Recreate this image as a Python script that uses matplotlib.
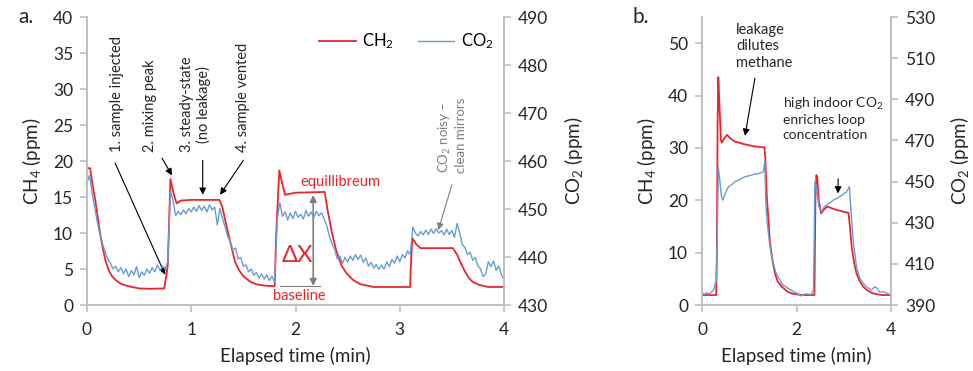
import numpy as np
import matplotlib
matplotlib.use("Agg")
import matplotlib.pyplot as plt

plt.rcParams['font.family'] = ['Lato', 'DejaVu Sans']
plt.rcParams['mathtext.fontset'] = 'custom'
plt.rcParams['mathtext.rm'] = 'Lato'
plt.rcParams['mathtext.it'] = 'Lato:italic'

RED = '#E8262B'
BLUE = '#6A9CD4'
SPINE = '#BFBFBF'
GREY = '#7F7F7F'
TXT = '#262626'

# ---- panel a data ----
# CH4 (left axis, ppm), read at knots
a_ch4_t = [0, 0.03, 0.05, 0.08, 0.1, 0.125, 0.15, 0.18, 0.21, 0.24, 0.28, 0.33, 0.4, 0.5, 0.6,
           0.74, 0.76, 0.775, 0.8, 0.83, 0.86, 0.9, 1.0, 1.27, 1.3, 1.33, 1.37, 1.42, 1.46, 1.5,
           1.56, 1.62, 1.7, 1.8, 1.815, 1.845, 1.87, 1.9, 2.0, 2.28, 2.31, 2.35, 2.39, 2.44, 2.49,
           2.55, 2.62, 2.75, 3.1, 3.105, 3.12, 3.16, 3.2, 3.51, 3.55, 3.58, 3.62, 3.66, 3.7, 3.76,
           3.85, 4.0]
a_ch4 = [19, 19, 17, 14.5, 12.5, 10, 8, 6, 4.8, 4, 3.4, 2.9, 2.6, 2.3, 2.25,
         2.3, 4, 5.5, 17.5, 15.5, 14.1, 14.5, 14.6, 14.6, 13.5, 11.5, 9, 6, 4.8, 4,
         3.3, 2.9, 2.7, 2.6, 10, 18.7, 17, 15.3, 15.6, 15.7, 13, 10, 7.6, 5.5, 4.4,
         3.5, 2.9, 2.5, 2.5, 5, 9.3, 8.4, 7.9, 7.9, 7, 6, 4.8, 3.8, 3.2, 2.8,
         2.5, 2.5]

# CO2 (right axis, ppm), read every 0.025 min
a_co2_t = np.arange(161) * 0.025
a_co2 = [455.5, 457, 453.2, 450.2, 447.2, 444.7, 442.7, 441, 439.5, 438.7,
         437.5, 438.1, 436.9, 437.8, 436.5, 437.5, 435.9, 437.2, 436.3, 438,
         435.7, 436.9, 436.2, 437.5, 436.6, 437.8, 436.9, 438.3, 437.2, 438.1,
         437.5, 439, 453.7, 451.8, 448.6, 449.5, 448.8, 449.8, 449, 450.1,
         449.4, 450.4, 449.5, 450.7, 449.7, 450.6, 449.4, 450.9, 449.8, 450.4,
         446.7, 450.1, 448, 446.2, 444.3, 443.2, 441.4, 441.9, 439.6, 439.9,
         438, 438.4, 436.9, 437.5, 436.2, 436.8, 435.6, 436.5, 435.4, 436.3,
         435.1, 436, 434.7, 448, 451.3, 448.5, 449.4, 447.7, 449.2, 448,
         449.5, 448.3, 448.9, 447.9, 449.7, 448.5, 449.4, 448.2, 449.5, 448.6,
         449.2, 447.9, 446.5, 444.4, 442.8, 441.7, 439.6, 440.2, 438.7, 439.9,
         439, 440.2, 439.3, 440.5, 439.5, 440.4, 438.9, 439.8, 438.1, 438.9,
         437.7, 438.4, 437.4, 438.3, 437.5, 439, 438, 439.5, 438.7, 440.2,
         439, 440.5, 439.8, 441.3, 440.5, 446.2, 445, 444.4, 445.3, 444.6,
         445.6, 444.7, 445.8, 444.9, 445.9, 445, 445.5, 444.6, 445.8, 444.7,
         445.5, 444.1, 447, 445, 442.6, 442, 440.5, 441, 439.3, 439.9,
         438.1, 437.5, 435.9, 436.5, 439, 438, 439.2, 437.2, 438.1, 436.3,
         435.3]

# ---- panel b data ----
b_ch4_t = [0, 0.3, 0.315, 0.33, 0.345, 0.37, 0.4, 0.42, 0.47, 0.53, 0.6, 0.7, 0.9, 1.1, 1.32,
           1.34, 1.37, 1.44, 1.5, 1.545, 1.6, 1.69, 1.8, 1.9, 2.1, 2.38, 2.4, 2.42, 2.44, 2.47,
           2.52, 2.58, 2.65, 2.8, 3.0, 3.1, 3.13, 3.17, 3.22, 3.27, 3.34, 3.41, 3.5, 3.62, 3.8, 4.0]
b_ch4 = [1.9, 1.9, 10, 35, 43.5, 38, 31.5, 31, 31.8, 32.5, 31.8, 31.2, 30.7, 30.3, 30.1,
         28, 21, 11.8, 8, 6, 4.5, 3.5, 2.6, 2.2, 1.9, 1.9, 20, 24.8, 24.5, 20,
         17.5, 18.2, 18.8, 18.3, 17.8, 17.6, 15, 11, 8, 6, 4.5, 3.5, 2.8, 2.2, 1.9, 1.9]

b_co2_t = [0, 0.05, 0.1, 0.15, 0.2, 0.25, 0.28, 0.3, 0.32, 0.345, 0.37, 0.41, 0.44, 0.5, 0.56,
           0.63, 0.7, 0.8, 0.91, 1.0, 1.12, 1.2, 1.3, 1.33, 1.35, 1.38, 1.44, 1.5, 1.56, 1.61,
           1.7, 1.83, 1.9, 2.0, 2.1, 2.2, 2.3, 2.36, 2.39, 2.42, 2.47, 2.53, 2.58, 2.64, 2.7,
           2.78, 2.85, 2.92, 3.0, 3.06, 3.12, 3.14, 3.2, 3.27, 3.34, 3.41, 3.5, 3.59, 3.65, 3.7,
           3.76, 3.84, 3.9, 4.0]
b_co2 = [396, 395.2, 396, 395.4, 396.3, 397.5, 400.5, 401, 420, 457, 452, 443, 441, 444.5, 447.5,
         448.5, 450, 451, 452.4, 452.8, 453.7, 453.9, 454.8, 460, 440, 430, 418, 411, 406, 403.8,
         400, 398, 397, 395.8, 394.4, 395.5, 395, 397, 450, 448, 438, 435.4, 437.5, 438.6, 439.5,
         441, 441.8, 442.7, 444, 445, 447.5, 440, 421.6, 408.6, 403, 400.5, 398.5, 397.3, 398.8, 398.3,
         396.2, 396.5, 395.8, 394.9]

fig = plt.figure(figsize=(9.73, 3.71), dpi=100)
ax_a = fig.add_axes([87 / 973, 66 / 371, 417 / 973, 288 / 371])
ax_b = fig.add_axes([702 / 973, 66 / 371, 189 / 973, 288 / 371])


def style_axes(ax, ax2):
    for a in (ax, ax2):
        a.spines['top'].set_visible(False)
        for s in ('left', 'right', 'bottom'):
            a.spines[s].set_color(SPINE)
            a.spines[s].set_linewidth(1.2)
        a.tick_params(axis='both', direction='out', length=5, width=1.2, color=SPINE,
                      labelsize=12.5, labelcolor=TXT, pad=5)
    ax.tick_params(axis='x', pad=7)


# ---- panel a ----
ax2_a = ax_a.twinx()
l1, = ax_a.plot(a_ch4_t, a_ch4, color=RED, lw=1.3, label='CH$_2$')
l2, = ax2_a.plot(a_co2_t, a_co2, color=BLUE, lw=1.0, label='CO$_2$')
ax_a.set_xlim(0, 4)
ax_a.set_ylim(0, 40)
ax2_a.set_ylim(430, 490)
ax_a.set_xticks([0, 1, 2, 3, 4])
ax_a.set_yticks(range(0, 41, 5))
ax2_a.set_yticks(range(430, 491, 10))
style_axes(ax_a, ax2_a)
ax_a.set_xlabel('Elapsed time (min)', fontsize=13.5, color=TXT, labelpad=7)
ax_a.set_ylabel('CH$_4$ (ppm)', fontsize=13.5, color=TXT, labelpad=7)
ax2_a.set_ylabel('CO$_2$ (ppm)', fontsize=13.5, color=TXT, labelpad=10)
ax_a.legend(handles=[l1, l2], loc='center left', bbox_to_anchor=(0.52, 0.915), ncol=2,
            frameon=False, fontsize=12, handlelength=2.2, columnspacing=1.4, handletextpad=0.4)

arrow = dict(arrowstyle='-|>', color='black', lw=0.8, mutation_scale=10, shrinkA=0, shrinkB=0)
ax_a.text(0.29, 21.2, '1. sample injected', rotation=90, ha='center', va='bottom',
          fontsize=10.5, color=TXT)
ax_a.annotate('', xy=(0.75, 4.2), xytext=(0.27, 19.7), arrowprops=arrow)
ax_a.text(0.605, 21.2, '2. mixing peak', rotation=90, ha='center', va='bottom', fontsize=10.5, color=TXT)
ax_a.annotate('', xy=(0.815, 18.0), xytext=(0.72, 20.4), arrowprops=arrow)
ax_a.text(1.04, 21.2, '3. steady-state\n(no leakage)', rotation=90, ha='center', va='bottom',
          fontsize=10.5, color=TXT, multialignment='center')
ax_a.annotate('', xy=(1.11, 15.3), xytext=(1.11, 20.1), arrowprops=arrow)
ax_a.text(1.5, 21.2, '4. sample vented', rotation=90, ha='center', va='bottom', fontsize=10.5, color=TXT)
ax_a.annotate('', xy=(1.276, 15.3), xytext=(1.5, 20.1), arrowprops=arrow)

ax_a.text(2.43, 17.1, 'equillibreum', ha='center', va='center', fontsize=10.5, color=RED)
ax_a.annotate('', xy=(2.17, 15.3), xytext=(2.17, 2.64),
              arrowprops=dict(arrowstyle='<|-|>', color=GREY, lw=1.2, mutation_scale=10,
                              shrinkA=0, shrinkB=0))
ax_a.plot([1.85, 2.235], [2.64, 2.64], color=GREY, lw=0.8)
ax_a.text(2.02, 6.9, 'ΔX', ha='center', va='center', fontsize=17, color=RED)
ax_a.text(2.04, 1.25, 'baseline', ha='center', va='center', fontsize=10.5, color=RED)
ax_a.text(3.5, 18.3, 'CO$_2$ noisy –\nclean mirrors', rotation=90, ha='center', va='bottom',
          fontsize=9.5, color=GREY, multialignment='left')
ax_a.annotate('', xy=(3.37, 10.4), xytext=(3.5, 16.7),
              arrowprops=dict(arrowstyle='-|>', color=GREY, lw=0.8, mutation_scale=10,
                              shrinkA=0, shrinkB=0))

# ---- panel b ----
ax2_b = ax_b.twinx()
ax_b.plot(b_ch4_t, b_ch4, color=RED, lw=1.3)
ax2_b.plot(b_co2_t, b_co2, color=BLUE, lw=1.0)
ax_b.set_xlim(0, 4)
ax_b.set_ylim(0, 55)
ax2_b.set_ylim(390, 530)
ax_b.set_xticks([0, 2, 4])
ax_b.set_yticks(range(0, 51, 10))
ax2_b.set_yticks(range(390, 531, 20))
style_axes(ax_b, ax2_b)
ax_b.set_xlabel('Elapsed time (min)', fontsize=13.5, color=TXT, labelpad=7)
ax_b.set_ylabel('CH$_4$ (ppm)', fontsize=13.5, color=TXT, labelpad=7)
ax2_b.set_ylabel('CO$_2$ (ppm)', fontsize=13.5, color=TXT, labelpad=9)

ax_b.text(0.72, 53.8, 'leakage\ndilutes\nmethane', ha='left', va='top', fontsize=10.5, color=TXT,
          linespacing=1.2)
ax_b.annotate('', xy=(0.91, 32.3), xytext=(1.12, 43.3), arrowprops=arrow)
ax_b.text(1.71, 40.0, 'high indoor CO$_2$\nenriches loop\nconcentration', ha='left', va='top',
          fontsize=10, color=TXT, linespacing=1.25)
ax_b.annotate('', xy=(2.88, 21.3), xytext=(2.88, 24.1), arrowprops=arrow)

fig.text(18 / 973, 1 - 17 / 371, 'a.', fontsize=15, color=TXT, va='center', ha='left')
fig.text(633 / 973, 1 - 17 / 371, 'b.', fontsize=15, color=TXT, va='center', ha='left')

fig.savefig('out.png', dpi=100)
